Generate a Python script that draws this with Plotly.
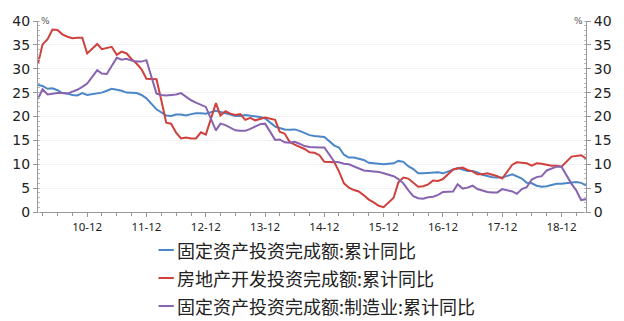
import plotly.graph_objects as go

# ---------------- data ----------------
dates = [f"{y}-{m:02d}-01" for y in range(2010, 2019) for m in range(2, 13)] + \
        ["2019-02-01", "2019-03-01", "2019-04-01", "2019-05-01"]

fai_total = [
    26.6, 26.4, 25.8, 25.9, 25.5, 24.9, 24.8, 24.5, 24.4, 24.9, 24.5,
    24.9, 25.0, 25.4, 25.8, 25.6, 25.4, 25.0, 24.9, 24.9, 24.5, 23.8,
    21.5, 20.9, 20.2, 20.1, 20.4, 20.4, 20.2, 20.5, 20.7, 20.7, 20.6,
    21.2, 20.9, 20.6, 20.4, 20.1, 20.1, 20.3, 20.2, 20.1, 19.9, 19.6,
    17.9, 17.6, 17.3, 17.2, 17.3, 17.0, 16.5, 16.1, 15.9, 15.8, 15.7,
    13.9, 13.5, 12.0, 11.4, 11.4, 11.2, 10.9, 10.3, 10.2, 10.2, 10.0,
    10.2, 10.7, 10.5, 9.6, 9.0, 8.1, 8.1, 8.2, 8.3, 8.3, 8.1,
    8.9, 9.2, 8.9, 8.6, 8.6, 8.3, 7.8, 7.5, 7.3, 7.2, 7.2,
    7.9, 7.5, 7.0, 6.1, 6.0, 5.5, 5.3, 5.4, 5.7, 5.9, 5.9,
    6.1, 6.3, 6.1, 5.6,
]
real_estate = [
    31.1, 35.1, 36.2, 38.2, 38.1, 37.2, 36.7, 36.4, 36.5, 36.5, 33.2,
    35.2, 34.1, 34.3, 34.6, 32.9, 33.6, 33.2, 32.0, 31.1, 29.9, 27.9,
    27.8, 23.5, 18.7, 18.5, 16.6, 15.4, 15.6, 15.4, 15.4, 16.7, 16.2,
    22.8, 20.2, 21.1, 20.6, 20.3, 20.5, 19.3, 19.7, 19.2, 19.5, 19.8,
    19.3, 16.8, 16.4, 14.7, 14.1, 13.7, 13.2, 12.5, 12.4, 11.9, 10.5,
    10.4, 8.5, 6.0, 5.1, 4.6, 4.3, 3.5, 2.6, 2.0, 1.3, 1.0,
    3.0, 6.2, 7.2, 7.0, 6.1, 5.3, 5.4, 5.8, 6.6, 6.5, 6.9,
    8.9, 9.1, 9.3, 8.8, 8.5, 7.9, 7.9, 8.1, 7.8, 7.5, 7.0,
    9.9, 10.4, 10.3, 10.2, 9.7, 10.2, 10.1, 9.9, 9.7, 9.7, 9.5,
    11.6, 11.8, 11.9, 11.2,
]
manufacturing = [
    23.7, 25.7, 24.6, 24.8, 24.9, 24.9, 24.8, 25.2, 25.6, 26.2, 26.9,
    29.7, 29.0, 28.9, 30.7, 32.3, 31.9, 32.1, 31.7, 31.5, 31.5, 31.8,
    24.8, 24.5, 24.4, 24.5, 24.6, 24.9, 24.1, 23.4, 22.9, 22.5, 22.0,
    17.1, 18.5, 18.2, 17.6, 17.1, 17.0, 17.0, 17.4, 17.9, 18.4, 18.5,
    15.1, 15.2, 14.6, 14.5, 14.7, 14.3, 13.8, 13.6, 13.5, 13.5, 13.5,
    10.5, 10.4, 10.1, 10.0, 9.6, 9.1, 8.7, 8.6, 8.5, 8.4, 8.1,
    7.5, 6.9, 6.0, 4.6, 3.3, 2.9, 2.8, 3.1, 3.2, 3.6, 4.2,
    4.3, 5.8, 4.9, 5.1, 5.5, 4.8, 4.5, 4.2, 4.1, 4.1, 4.8,
    4.3, 3.8, 4.8, 5.2, 6.8, 7.3, 7.5, 8.7, 9.1, 9.5, 9.5,
    5.9, 4.6, 2.5, 2.7,
]

series_names = ["固定资产投资完成额:累计同比", "房地产开发投资完成额:累计同比", "固定资产投资完成额:制造业:累计同比"]
series_colors = ["#4a86c8", "#d0403c", "#8763b0"]

tick_dates = [f"{y}-12-01" for y in range(2010, 2019)]
tick_text = [f"{y % 100:02d}-12" for y in range(2010, 2019)]

# ---------------- geometry ----------------
W, H = 624, 321
L, R, T, B = 29, 22, 21, 109
PW, PH = W - L - R, H - T - B


def px_to_paper(x, y):
    return (x - L) / PW, (H - B - y) / PH


fig = go.Figure()
for vals, name, col in zip([fai_total, real_estate, manufacturing], series_names, series_colors):
    fig.add_trace(go.Scatter(x=dates, y=vals, mode="lines", name=name,
                             line=dict(color=col, width=2), showlegend=False))
# invisible trace to activate right axis
fig.add_trace(go.Scatter(x=dates, y=fai_total, yaxis="y2", mode="lines",
                         line=dict(width=0), opacity=0, showlegend=False, hoverinfo="skip"))

tickfont_y = dict(family="DejaVu Sans", size=14, color="#222")
fig.update_layout(
    width=W, height=H,
    margin=dict(l=L, r=R, t=T, b=B, pad=0),
    paper_bgcolor="white", plot_bgcolor="white",
    xaxis=dict(type="date", range=["2010-02-01", "2019-05-01"],
               tickvals=tick_dates, ticktext=tick_text,
               ticks="outside", ticklen=4, tickcolor="#999", tickwidth=1,
               tickfont=dict(family="Noto Sans", size=11.5, color="#222"),
               showline=True, linecolor="#999", linewidth=1, showgrid=False, zeroline=False,
               minor=dict(dtick="M3", tick0="2010-03-01", ticks="outside", ticklen=3,
                          tickcolor="#999", showgrid=False)),
    yaxis=dict(range=[0, 40], dtick=5, ticks="outside", ticklen=4, tickcolor="#999",
               tickfont=tickfont_y, showline=True, linecolor="#999", linewidth=1,
               showgrid=True, gridcolor="#f2f2f2", zeroline=False,
               minor=dict(dtick=1, ticks="inside", ticklen=2, tickcolor="#bbb", showgrid=False)),
    yaxis2=dict(range=[0, 40], dtick=5, overlaying="y", side="right", ticks="outside", ticklen=4,
                tickcolor="#999", tickfont=tickfont_y, showline=True, linecolor="#999", linewidth=1,
                showgrid=False, zeroline=False,
                minor=dict(dtick=1, ticks="inside", ticklen=2, tickcolor="#bbb", showgrid=False)),
)

# unit labels
fig.add_annotation(x=0, y=1, xref="paper", yref="paper", text="%", showarrow=False,
                   xanchor="left", yanchor="middle", xshift=1,
                   font=dict(family="DejaVu Sans", size=9, color="#555"))
fig.add_annotation(x=1, y=1, xref="paper", yref="paper", text="%", showarrow=False,
                   xanchor="right", yanchor="middle", xshift=-1,
                   font=dict(family="DejaVu Sans", size=9, color="#555"))

# custom legend
rows_y = [250, 278, 306]
for name, col, ry in zip(series_names, series_colors, rows_y):
    x0, y0 = px_to_paper(155, ry)
    x1, _ = px_to_paper(171, ry)
    fig.add_shape(type="line", xref="paper", yref="paper", x0=x0, x1=x1, y0=y0, y1=y0,
                  line=dict(color=col, width=2))
    tx, ty = px_to_paper(172, ry)
    fig.add_annotation(x=tx, y=ty, xref="paper", yref="paper", text=name, showarrow=False,
                       xanchor="left", yanchor="middle",
                       font=dict(family="Noto Sans CJK SC", size=18, color="#222"))

fig.write_html("out.html")
